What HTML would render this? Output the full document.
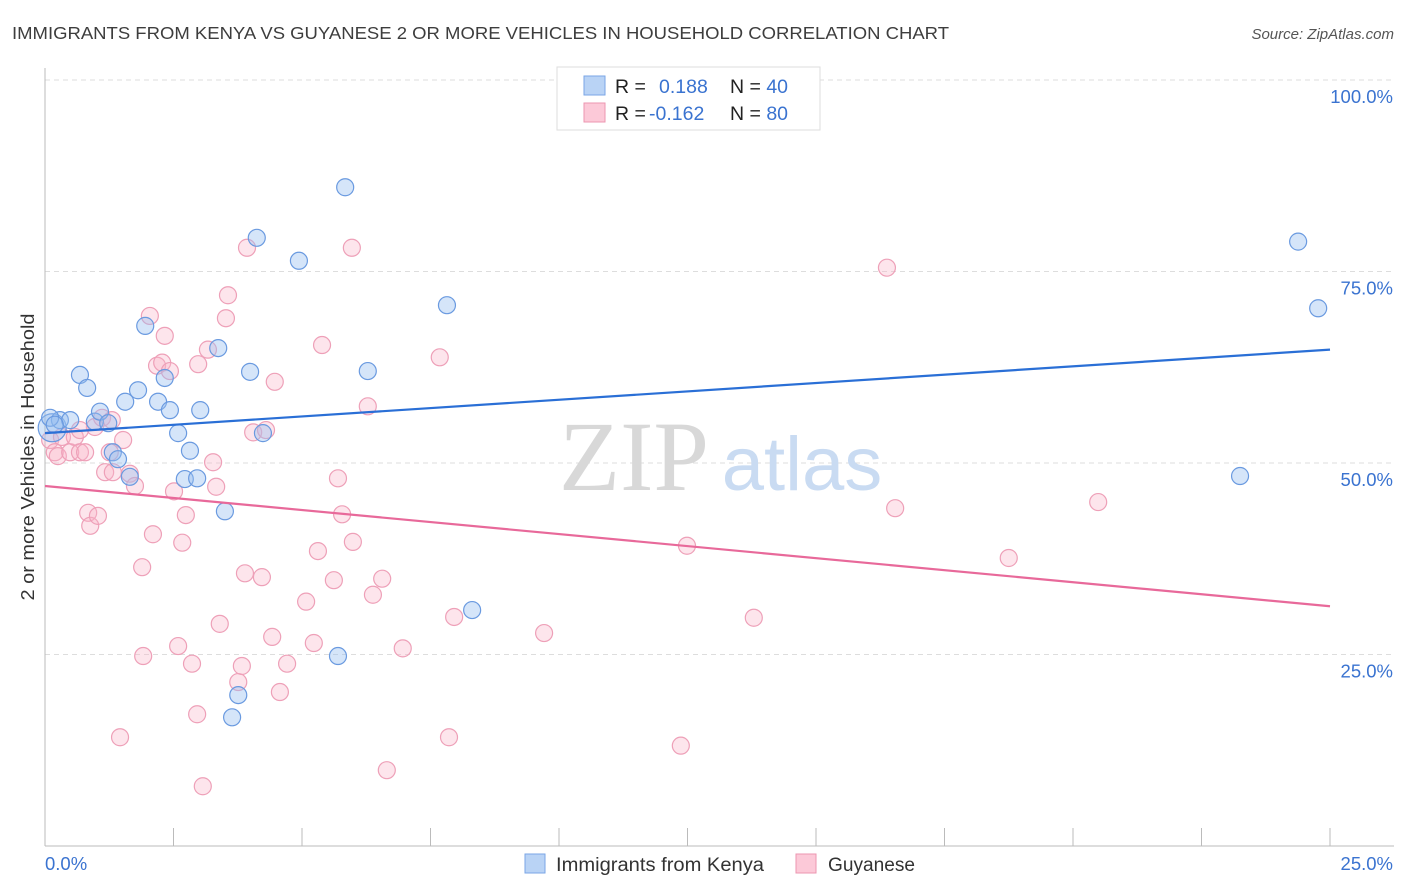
<!DOCTYPE html>
<html><head><meta charset="utf-8"><style>
body{margin:0;background:#fff;font-family:"Liberation Sans",sans-serif;}
svg{display:block}
</style></head><body>
<svg id="chart" width="1406" height="892" xmlns="http://www.w3.org/2000/svg">
<text x="12" y="39" font-size="17.5" fill="#3d3d3d" textLength="937" lengthAdjust="spacingAndGlyphs">IMMIGRANTS FROM KENYA VS GUYANESE 2 OR MORE VEHICLES IN HOUSEHOLD CORRELATION CHART</text>
<text x="1394" y="39" font-size="15" fill="#555" font-style="italic" text-anchor="end">Source: ZipAtlas.com</text>
<g id="grid"></g>
<g>
<text x="634" y="490" font-size="100" fill="#d8d8d8" font-family="Liberation Serif,serif" text-anchor="middle">ZIP</text>
<text x="802" y="490" font-size="76" fill="#c9dbf2" text-anchor="middle">atlas</text>
</g>
<g id="axes"></g>
<g id="pink"></g>
<g id="blue"></g>
<g id="lines"></g>
<text transform="translate(34,457) rotate(-90)" font-size="18" fill="#333" text-anchor="middle" textLength="287" lengthAdjust="spacingAndGlyphs">2 or more Vehicles in Household</text>
<g>
<rect x="557" y="67" width="263" height="63" fill="#fff" stroke="#ddd"/>
<rect x="584" y="76" width="21" height="19" fill="#b9d3f5" stroke="#7aa6e6"/>
<rect x="584" y="103" width="21" height="19" fill="#fcc9d8" stroke="#ec96b0"/>
<text x="615" y="93" font-size="19.5" fill="#222">R = <tspan fill="#3a73d0" x="659">0.188</tspan></text>
<text x="730" y="93" font-size="19.5" fill="#222">N = <tspan fill="#3a73d0">40</tspan></text>
<text x="615" y="120" font-size="19.5" fill="#222">R = <tspan fill="#3a73d0" x="649">-0.162</tspan></text>
<text x="730" y="120" font-size="19.5" fill="#222">N = <tspan fill="#3a73d0">80</tspan></text>
</g>
<g>
<rect x="525" y="854" width="20" height="19" fill="#b9d3f5" stroke="#7aa6e6"/>
<text x="556" y="871" font-size="19" fill="#333" textLength="208" lengthAdjust="spacingAndGlyphs">Immigrants from Kenya</text>
<rect x="796" y="854" width="20" height="19" fill="#fcc9d8" stroke="#ec96b0"/>
<text x="828" y="871" font-size="19" fill="#333" textLength="87" lengthAdjust="spacingAndGlyphs">Guyanese</text>
</g>
</svg>
<script>
const blueX=[0.14,0.29,0.49,0.68,0.82,0.97,1.07,1.23,1.32,1.42,1.56,1.65,1.81,1.95,2.20,2.33,2.43,2.59,2.72,2.82,2.96,3.02,3.37,3.50,3.64,3.76,3.99,4.12,4.24,4.94,5.70,5.84,6.28,7.82,8.31,23.25,24.38,24.77,0.10,0.19];
const blueY=[54.6,55.6,55.6,61.5,59.8,55.4,56.7,55.2,51.4,50.5,58.0,48.2,59.5,67.9,58.0,61.1,56.9,53.9,47.9,51.6,48.0,56.9,65.0,43.7,16.8,19.7,61.9,79.4,53.9,76.4,24.8,86.0,62.0,70.6,30.8,48.3,78.9,70.2,55.9,55.0];
const pinkX=[0.10,0.19,0.25,0.33,0.49,0.58,0.68,0.78,0.84,0.88,0.97,1.03,1.11,1.17,1.30,1.32,1.46,1.52,1.65,1.75,1.89,1.91,2.04,2.10,2.18,2.28,2.33,2.43,2.51,2.59,2.67,2.74,2.86,2.96,2.98,3.07,3.17,3.27,3.33,3.40,3.52,3.56,3.76,3.83,3.89,3.93,4.05,4.22,4.30,4.42,4.47,4.57,4.71,5.08,5.23,5.31,5.39,5.62,5.70,5.78,5.97,5.99,6.28,6.38,6.56,6.65,6.96,7.68,7.86,7.96,9.71,12.37,12.49,13.79,16.38,16.54,18.75,20.49,1.26,0.68];
const pinkY=[53.0,51.4,50.9,53.4,51.4,53.4,51.4,51.4,43.5,41.8,54.7,43.1,55.9,48.8,55.6,48.8,14.2,53.0,48.6,47.0,36.4,24.8,69.2,40.7,62.7,63.1,66.6,62.0,46.3,26.1,39.6,43.2,23.8,17.2,62.9,7.8,64.8,50.1,46.9,29.0,68.9,71.9,21.4,23.5,35.6,78.1,54.0,35.1,54.3,27.3,60.6,20.1,23.8,31.9,26.5,38.5,65.4,34.7,48.0,43.3,78.1,39.7,57.4,32.8,34.9,9.9,25.8,63.8,14.2,29.9,27.8,13.1,39.2,29.8,75.5,44.1,37.6,44.9,51.4,54.3];
const blueTrend=[53.9,64.8];
const pinkTrend=[47.0,31.3];
const yTicks=[25,50,75,100];
const yTickLabels=["25.0%","50.0%","75.0%","100.0%"];
const xTicks=[0,2.5,5,7.5,10,12.5,15,17.5,20,22.5,25];

const NS="http://www.w3.org/2000/svg";
const sx=v=>45+v*(1285/25);
const sy=v=>846-v*7.66;
function mk(tag,attrs,parent){const e=document.createElementNS(NS,tag);for(const k in attrs)e.setAttribute(k,attrs[k]);parent.appendChild(e);return e;}
const grid=document.getElementById('grid'),axes=document.getElementById('axes');
yTicks.forEach((t,i)=>{
  const l=mk('line',{x1:45,x2:1394,y1:sy(t),y2:sy(t),stroke:'#ddd','stroke-dasharray':'5,4'},grid);
  
  
  const tx=mk('text',{x:1393,y:sy(t)+23,'font-size':18.5,fill:'#3a73d0','text-anchor':'end'},axes);
  tx.textContent=yTickLabels[i];
  
  
});
const al=mk('line',{x1:45,x2:45,y1:68,y2:846,stroke:'#bbb'},axes);


const bl=mk('line',{x1:45,x2:1394,y1:846,y2:846,stroke:'#bbb'},axes);


xTicks.forEach(t=>{
  const l=mk('line',{x1:sx(t),x2:sx(t),y1:828,y2:846,stroke:'#bbb'},axes);
  
  
});
const x0=mk('text',{x:45,y:870,'font-size':18.5,fill:'#3a73d0'},axes);x0.textContent='0.0%';


const x1=mk('text',{x:1393,y:870,'font-size':18.5,fill:'#3a73d0','text-anchor':'end'},axes);x1.textContent='25.0%';


const pg=document.getElementById('pink'),bg=document.getElementById('blue');
pinkX.forEach((x,i)=>{
  const c=mk('circle',{cx:sx(x),cy:sy(pinkY[i]),r:8.5,fill:'rgba(248,180,200,0.35)',stroke:'#eea0b8','stroke-width':1.2},pg);
  
  
});
blueX.forEach((x,i)=>{
  const c=mk('circle',{cx:sx(x),cy:sy(blueY[i]),r:i===0?14:8.5,fill:'rgba(150,190,240,0.4)',stroke:'#6a9ae0','stroke-width':1.2},bg);
  
  
});
const lg=document.getElementById('lines');
const b=mk('line',{x1:sx(0),y1:sy(blueTrend[0]),x2:sx(25),y2:sy(blueTrend[1]),stroke:'#2a6fd6','stroke-width':2.2},lg);


const p=mk('line',{x1:sx(0),y1:sy(pinkTrend[0]),x2:sx(25),y2:sy(pinkTrend[1]),stroke:'#e8699a','stroke-width':2.2},lg);


</script>
</body></html>
